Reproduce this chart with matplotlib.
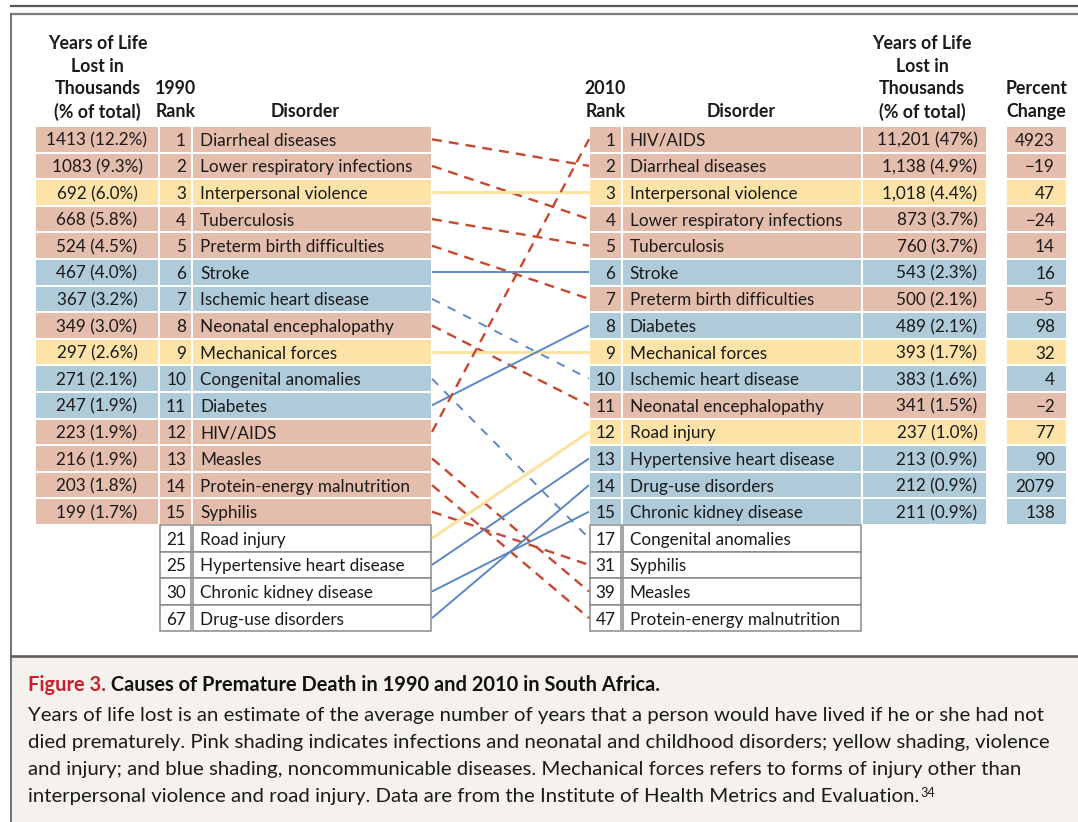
import matplotlib
matplotlib.use("Agg")
import matplotlib.pyplot as plt

# ---------------- data ----------------
ranks_1990 = list(range(1, 16))
values_1990 = ["1413 (12.2%)", "1083 (9.3%)", "692 (6.0%)", "668 (5.8%)", "524 (4.5%)",
               "467 (4.0%)", "367 (3.2%)", "349 (3.0%)", "297 (2.6%)", "271 (2.1%)",
               "247 (1.9%)", "223 (1.9%)", "216 (1.9%)", "203 (1.8%)", "199 (1.7%)"]
disorders_1990 = ["Diarrheal diseases", "Lower respiratory infections", "Interpersonal violence",
                  "Tuberculosis", "Preterm birth difficulties", "Stroke", "Ischemic heart disease",
                  "Neonatal encephalopathy", "Mechanical forces", "Congenital anomalies",
                  "Diabetes", "HIV/AIDS", "Measles", "Protein-energy malnutrition", "Syphilis"]
extra_ranks_1990 = [21, 25, 30, 67]
extra_disorders_1990 = ["Road injury", "Hypertensive heart disease", "Chronic kidney disease",
                        "Drug-use disorders"]

ranks_2010 = list(range(1, 16))
disorders_2010 = ["HIV/AIDS", "Diarrheal diseases", "Interpersonal violence",
                  "Lower respiratory infections", "Tuberculosis", "Stroke",
                  "Preterm birth difficulties", "Diabetes", "Mechanical forces",
                  "Ischemic heart disease", "Neonatal encephalopathy", "Road injury",
                  "Hypertensive heart disease", "Drug-use disorders", "Chronic kidney disease"]
values_2010 = ["11,201 (47%)", "1,138 (4.9%)", "1,018 (4.4%)", "873 (3.7%)", "760 (3.7%)",
               "543 (2.3%)", "500 (2.1%)", "489 (2.1%)", "393 (1.7%)", "383 (1.6%)",
               "341 (1.5%)", "237 (1.0%)", "213 (0.9%)", "212 (0.9%)", "211 (0.9%)"]
pct_change = ["4923", "\u221219", "47", "\u221224", "14", "16", "\u22125", "98", "32", "4",
              "\u22122", "77", "90", "2079", "138"]
extra_ranks_2010 = [17, 31, 39, 47]
extra_disorders_2010 = ["Congenital anomalies", "Syphilis", "Measles", "Protein-energy malnutrition"]

infections = ["Diarrheal diseases", "Lower respiratory infections", "Tuberculosis",
              "Preterm birth difficulties", "Neonatal encephalopathy", "HIV/AIDS", "Measles",
              "Protein-energy malnutrition", "Syphilis"]
injuries = ["Interpersonal violence", "Mechanical forces", "Road injury"]
ncds = ["Stroke", "Ischemic heart disease", "Congenital anomalies", "Diabetes",
        "Hypertensive heart disease", "Chronic kidney disease", "Drug-use disorders"]

caption_title = "Figure 3."
caption_title_rest = " Causes of Premature Death in 1990 and 2010 in South Africa."
caption_lines = [
    "Years of life lost is an estimate of the average number of years that a person would have lived if he or she had not",
    "died prematurely. Pink shading indicates infections and neonatal and childhood disorders; yellow shading, violence",
    "and injury; and blue shading, noncommunicable diseases. Mechanical forces refers to forms of injury other than",
    "interpersonal violence and road injury. Data are from the Institute of Health Metrics and Evaluation.",
]
caption_ref = "34"

# ---------------- styles ----------------
FILL = {"inf": "#e5bdac", "inj": "#fde3a7", "ncd": "#afcbda"}
LINE = {"inf": "#c9472f", "inj": "#fde1a0", "ncd": "#5b86c6"}
TXT = "#1a1a1a"
FONT = ["Lato", "DejaVu Sans"]
CAPFONT = ["Lato", "DejaVu Sans"]


def group(name):
    if name in infections:
        return "inf"
    if name in injuries:
        return "inj"
    return "ncd"


W, H = 1078, 822
fig = plt.figure(figsize=(W / 100, H / 100), dpi=100)
ax = fig.add_axes([0, 0, 1, 1])
ax.set_xlim(0, W)
ax.set_ylim(H, 0)
ax.axis("off")

Y0, RH, GAP = 126.0, 26.6, 2.0


def yc(i):
    return Y0 + RH * (i + 0.5)


# left columns (x0, x1)
L_VAL, L_RANK, L_DIS = (36, 158), (160, 191), (193, 431)
R_RANK, R_DIS, R_VAL, R_PCT = (590, 620.5), (622.5, 860.5), (862.5, 985.5), (1007, 1066)


def cell(col, i, color):
    ax.barh(yc(i), col[1] - col[0], left=col[0], height=RH - GAP, color=color,
            edgecolor="none", zorder=1)


def wcell(col, i):
    ax.barh(yc(i), col[1] - col[0], left=col[0], height=RH, color="white",
            edgecolor="#8a8a8a", linewidth=1.1, zorder=1)


FS = 12.3
# ---------- left table ----------
for i, (r, v, d) in enumerate(zip(ranks_1990, values_1990, disorders_1990)):
    c = FILL[group(d)]
    for col in (L_VAL, L_RANK, L_DIS):
        cell(col, i, c)
    ax.text((L_VAL[0] + L_VAL[1]) / 2, yc(i), v, ha="center", va="center_baseline",
            fontsize=FS, family=FONT, color=TXT, zorder=3)
    ax.text(L_RANK[1] - 5, yc(i), str(r), ha="right", va="center_baseline",
            fontsize=FS, family=FONT, color=TXT, zorder=3)
    ax.text(L_DIS[0] + 7, yc(i), d, ha="left", va="center_baseline",
            fontsize=FS, family=FONT, color=TXT, zorder=3)
for k, (r, d) in enumerate(zip(extra_ranks_1990, extra_disorders_1990)):
    i = len(ranks_1990) + k
    wcell(L_RANK, i)
    wcell(L_DIS, i)
    ax.text(L_RANK[1] - 5, yc(i), str(r), ha="right", va="center_baseline",
            fontsize=FS, family=FONT, color=TXT, zorder=3)
    ax.text(L_DIS[0] + 7, yc(i), d, ha="left", va="center_baseline",
            fontsize=FS, family=FONT, color=TXT, zorder=3)

# ---------- right table ----------
for i, (r, d, v, p) in enumerate(zip(ranks_2010, disorders_2010, values_2010, pct_change)):
    c = FILL[group(d)]
    for col in (R_RANK, R_DIS, R_VAL, R_PCT):
        cell(col, i, c)
    ax.text(R_RANK[1] - 5, yc(i), str(r), ha="right", va="center_baseline",
            fontsize=FS, family=FONT, color=TXT, zorder=3)
    ax.text(R_DIS[0] + 7, yc(i), d, ha="left", va="center_baseline",
            fontsize=FS, family=FONT, color=TXT, zorder=3)
    ax.text(R_VAL[1] - 8, yc(i), v, ha="right", va="center_baseline",
            fontsize=FS, family=FONT, color=TXT, zorder=3)
    ax.text(R_PCT[1] - 11, yc(i), p, ha="right", va="center_baseline",
            fontsize=FS, family=FONT, color=TXT, zorder=3)
for k, (r, d) in enumerate(zip(extra_ranks_2010, extra_disorders_2010)):
    i = len(ranks_2010) + k
    wcell(R_RANK, i)
    wcell(R_DIS, i)
    ax.text(R_RANK[1] - 5, yc(i), str(r), ha="right", va="center_baseline",
            fontsize=FS, family=FONT, color=TXT, zorder=3)
    ax.text(R_DIS[0] + 7, yc(i), d, ha="left", va="center_baseline",
            fontsize=FS, family=FONT, color=TXT, zorder=3)

# ---------- connecting lines ----------
left_all = disorders_1990 + extra_disorders_1990
right_all = disorders_2010 + extra_disorders_2010
for li, name in enumerate(left_all):
    ri = right_all.index(name)
    g = group(name)
    dashed = g == "inf" or ri > li
    if g == "inf":
        kw = dict(lw=1.7, dashes=(4.2, 3.0))
    elif g == "inj":
        kw = dict(lw=2.2)
    else:
        kw = dict(lw=1.4, dashes=(4.5, 4.5)) if dashed else dict(lw=1.4)
    ax.plot([L_DIS[1] + 1, R_RANK[0] - 1], [yc(li), yc(ri)], color=LINE[g],
            solid_capstyle="butt", dash_capstyle="butt", zorder=2, **kw)

# ---------- headers ----------
HFS = 12.8
hk = dict(fontsize=HFS, family=FONT, fontweight="bold", color=TXT, ha="center",
          va="center_baseline", linespacing=1.3)
HL = [42, 64.5, 87, 110]
for j, s in enumerate(["Years of Life", "Lost in", "Thousands", "(% of total)"]):
    ax.text(97.5, HL[j], s, **hk)
    ax.text(922, HL[j], s, **hk)
ax.text(175.5, HL[2], "1990", **hk)
ax.text(175.5, HL[3], "Rank", **hk)
ax.text(305.5, HL[3], "Disorder", **hk)
ax.text(605.5, HL[2], "2010", **hk)
ax.text(605.5, HL[3], "Rank", **hk)
ax.text(741, HL[3], "Disorder", **hk)
ax.text(1036.5, HL[2], "Percent", **hk)
ax.text(1036.5, HL[3], "Change", **hk)

# ---------- frame ----------
ax.plot([10, W], [6.5, 6.5], color="#555555", lw=1.6, solid_capstyle="butt")
ax.plot([10, W], [14, 14], color="#7a7a7a", lw=1.6, solid_capstyle="butt")
ax.plot([11, 11], [13.5, H], color="#777777", lw=1.5, solid_capstyle="butt")
ax.fill_between([11.5, W], 656.5, H, color="#f5f2ed", zorder=0, lw=0)
ax.plot([10, W], [655.5, 655.5], color="#606060", lw=1.9, solid_capstyle="butt")

# ---------- caption ----------
TFS = 14.4
CFS = 14.7
t1 = ax.text(28, 683, caption_title, fontsize=TFS, family=CAPFONT, fontweight="bold",
             color="#c8202f", ha="left", va="center_baseline")
ax.annotate(caption_title_rest, xy=(1, 0), xycoords=t1, fontsize=TFS, family=CAPFONT,
            fontweight="bold", color="#111111", ha="left", va="bottom")
last = None
for j, s in enumerate(caption_lines):
    last = ax.text(28, 714 + 27 * j, s, fontsize=CFS, family=CAPFONT, color="#1a1a1a",
                   ha="left", va="center_baseline")
ax.annotate(caption_ref, xy=(1, 1), xycoords=last, xytext=(0.5, 0.5), textcoords="offset points",
            fontsize=CFS * 0.62, family=CAPFONT, color="#1a1a1a", ha="left", va="top")

fig.savefig("out.png", dpi=100, facecolor="white")
